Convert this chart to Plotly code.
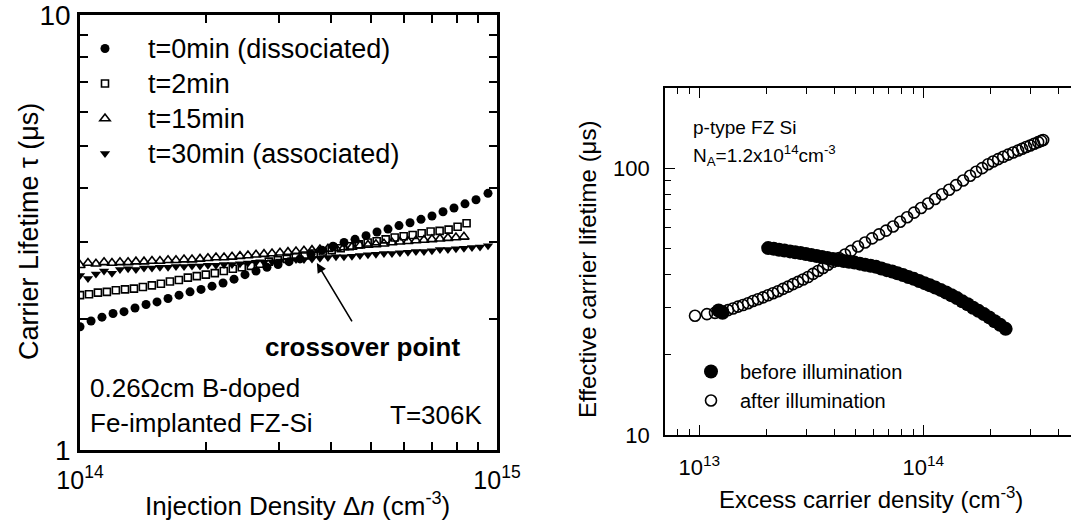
import plotly.graph_objects as go

FONT = "Liberation Sans, Arial, Helvetica, sans-serif"
W, H = 1071, 521

# ---- Left panel: lifetime vs injection density (x in units of 1e14 cm^-3, y in us)
t0_x = [1.000, 1.063, 1.129, 1.200, 1.275, 1.355, 1.440, 1.530, 1.626, 1.728,
        1.836, 1.951, 2.073, 2.203, 2.341, 2.487, 2.643, 2.808, 2.985, 3.171,
        3.370, 3.581, 3.805, 4.043, 4.297, 4.566, 4.852, 5.155, 5.478, 5.821,
        6.186, 6.573, 6.984, 7.422, 7.886, 8.380, 8.906, 9.515]
t0_y = [1.92, 1.98, 2.02, 2.06, 2.08, 2.12, 2.16, 2.19, 2.23, 2.27,
        2.31, 2.34, 2.38, 2.42, 2.47, 2.53, 2.58, 2.63, 2.67, 2.71,
        2.75, 2.82, 2.88, 2.94, 3.00, 3.05, 3.11, 3.17, 3.22, 3.28,
        3.33, 3.39, 3.45, 3.53, 3.60, 3.68, 3.76, 3.89]

t2_x = [1.000, 1.051, 1.104, 1.160, 1.219, 1.282, 1.347, 1.415, 1.487, 1.563,
        1.643, 1.726, 1.814, 1.906, 2.003, 2.105, 2.212, 2.325, 2.443, 2.568,
        2.698, 2.836, 2.980, 3.132, 3.291, 3.459, 3.635, 3.820, 4.014, 4.219,
        4.433, 4.659, 4.896, 5.146, 5.408, 5.683, 5.972, 6.276, 6.596, 6.931,
        7.284, 7.655, 8.045, 8.454]
t2_y = [2.27, 2.28, 2.30, 2.31, 2.33, 2.34, 2.35, 2.37, 2.39, 2.41,
        2.44, 2.46, 2.49, 2.51, 2.53, 2.55, 2.58, 2.61, 2.63, 2.65,
        2.68, 2.71, 2.73, 2.75, 2.78, 2.80, 2.83, 2.86, 2.88, 2.91,
        2.94, 2.97, 3.00, 3.02, 3.05, 3.08, 3.10, 3.12, 3.15, 3.18,
        3.19, 3.21, 3.26, 3.32]

t15_x = [1.000, 1.045, 1.092, 1.142, 1.193, 1.247, 1.304, 1.362, 1.424, 1.488,
         1.555, 1.626, 1.699, 1.776, 1.856, 1.940, 2.027, 2.119, 2.215, 2.315,
         2.419, 2.528, 2.643, 2.762, 2.887, 3.017, 3.153, 3.296, 3.444, 3.600,
         3.762, 3.932, 4.110, 4.295, 4.489, 4.692, 4.904, 5.125, 5.357, 5.599,
         5.851, 6.116, 6.392, 6.681, 6.982, 7.298, 7.627, 7.972, 8.332]
t15_y = [2.66, 2.69, 2.68, 2.70, 2.69, 2.70, 2.70, 2.71, 2.71, 2.72,
         2.72, 2.73, 2.73, 2.74, 2.74, 2.75, 2.76, 2.77, 2.77, 2.78,
         2.79, 2.80, 2.81, 2.82, 2.83, 2.84, 2.85, 2.86, 2.87, 2.88,
         2.89, 2.90, 2.91, 2.92, 2.93, 2.95, 2.96, 2.97, 2.98, 3.00,
         3.01, 3.02, 3.03, 3.04, 3.05, 3.06, 3.07, 3.08, 3.09]

t30_x = [1.000, 1.045, 1.092, 1.142, 1.193, 1.247, 1.304, 1.362, 1.424, 1.488,
         1.555, 1.626, 1.699, 1.776, 1.856, 1.940, 2.027, 2.119, 2.215, 2.315,
         2.419, 2.528, 2.643, 2.762, 2.887, 3.017, 3.153, 3.296, 3.444, 3.600,
         3.762, 3.932, 4.110, 4.295, 4.489, 4.692, 4.904, 5.125, 5.357, 5.599,
         5.851, 6.116, 6.392, 6.681, 6.982, 7.298, 7.627, 7.972, 8.332, 8.710,
         9.105, 9.516]
t30_y = [2.52, 2.48, 2.54, 2.58, 2.55, 2.60, 2.61, 2.60, 2.62, 2.62,
         2.63, 2.63, 2.64, 2.64, 2.65, 2.65, 2.66, 2.66, 2.67, 2.67,
         2.68, 2.69, 2.70, 2.70, 2.71, 2.72, 2.73, 2.74, 2.74, 2.75,
         2.76, 2.77, 2.78, 2.78, 2.79, 2.80, 2.81, 2.82, 2.83, 2.83,
         2.84, 2.85, 2.86, 2.86, 2.87, 2.89, 2.89, 2.90, 2.91, 2.92,
         2.93, 2.95]

# ---- Right panel: effective lifetime vs excess carrier density (x in units of 1e13 cm^-3)
before_x = [1.22, 1.27, 2.03, 2.15, 2.27, 2.40, 2.54, 2.68, 2.83, 2.99, 3.16, 3.34,
            3.53, 3.73, 3.95, 4.17, 4.41, 4.66, 4.93, 5.21, 5.50, 5.82,
            6.15, 6.50, 6.87, 7.26, 7.67, 8.11, 8.57, 9.06, 9.58, 10.12,
            10.70, 11.31, 11.95, 12.64, 13.36, 14.12, 14.92, 15.77, 16.67, 17.62,
            18.63, 19.69, 20.81, 22.0, 23.3]
before_y = [29.3, 28.7, 50.2, 49.9, 49.5, 49.2, 48.8, 48.4, 48.1, 47.7, 47.3, 46.9,
            46.5, 46.1, 45.7, 45.3, 44.9, 44.6, 44.3, 43.9, 43.5, 43.1,
            42.7, 42.1, 41.5, 41.0, 40.4, 39.8, 39.1, 38.5, 37.8, 37.1,
            36.4, 35.7, 35.0, 34.2, 33.4, 32.6, 31.7, 30.9, 30.0, 29.2,
            28.4, 27.6, 26.7, 25.9, 25.0]

after_x = [0.957, 1.082, 1.175, 1.276, 1.343, 1.414, 1.489, 1.567, 1.650, 1.737,
           1.828, 1.925, 2.026, 2.133, 2.245, 2.364, 2.489, 2.620, 2.758, 2.904,
           3.057, 3.218, 3.388, 3.567, 3.755, 3.953, 4.204, 4.471, 4.755, 5.110,
           5.493, 5.903, 6.344, 6.818, 7.328, 7.875, 8.463, 9.09, 9.77, 10.50,
           11.28, 12.13, 13.03, 14.00, 15.05, 16.17, 17.20, 18.30, 19.46, 20.49,
           21.58, 22.72, 23.90, 25.16, 26.48, 27.60, 28.76, 29.97, 31.23, 32.54,
           33.57, 34.26]
after_y = [28.0, 28.4, 28.7, 29.0, 29.4, 29.8, 30.3, 30.7, 31.2, 31.8,
           32.3, 32.8, 33.4, 34.0, 34.6, 35.3, 36.0, 36.8, 37.5, 38.3,
           39.1, 40.2, 41.2, 42.3, 43.5, 44.6, 46.1, 47.5, 49.0, 50.9,
           52.7, 54.6, 56.5, 58.4, 60.5, 63.0, 65.5, 68.2, 71.0, 73.8,
           76.7, 79.9, 83.1, 86.5, 90.0, 93.8, 97.0, 100.1, 103.6, 106.0,
           108.2, 110.4, 112.5, 114.6, 116.6, 118.3, 120.1, 121.8, 123.6, 125.3,
           126.7, 127.6]

# ---- Tick positions and labels
left_x_major = [1e14, 1e15]
left_x_labels = ["10<sup>14</sup>", "10<sup>15</sup>"]
left_x_minor = [2e14, 3e14, 4e14, 5e14, 6e14, 7e14, 8e14, 9e14]
left_y_major = [1, 10]
left_y_labels = ["1", "10"]
left_y_minor = [2, 3, 4, 5, 6, 7, 8, 9]

right_x_major = [1e13, 1e14]
right_x_labels = ["10<sup>13</sup>", "10<sup>14</sup>"]
right_x_minor = [8e12, 9e12, 2e13, 3e13, 4e13, 5e13, 6e13, 7e13, 8e13, 9e13,
                 2e14, 3e14, 4e14]
right_y_major = [10, 100]
right_y_labels = ["10", "100"]
right_y_minor = [20, 30, 40, 50, 60, 70, 80, 90, 200]


def px(x):
    return x / W


def py(y):
    return 1 - y / H


def big(text):
    # legend rows keep a compact line pitch while the entry text is drawn larger
    return f'<span style="font-size:27px">{text}</span>'


fig = go.Figure()

left_series = [
    ("t=0min (dissociated)", t0_x, t0_y, dict(symbol="circle", size=9, color="black")),
    ("t=2min", t2_x, t2_y, dict(symbol="square-open", size=7, color="black", line=dict(width=1.6))),
    ("t=15min", t15_x, t15_y, dict(symbol="triangle-up-open", size=9, color="black", line=dict(width=1.6))),
    ("t=30min (associated)", t30_x, t30_y, dict(symbol="triangle-down", size=9, color="black")),
]
for name, xs, ys, mk in left_series:
    fig.add_trace(go.Scatter(
        x=[v * 1e14 for v in xs], y=ys, mode="markers", name=big(name),
        marker=mk, xaxis="x", yaxis="y", legend="legend"))

fig.add_trace(go.Scatter(
    x=[v * 1e13 for v in after_x], y=after_y, mode="markers", name="after illumination",
    marker=dict(symbol="circle-open", size=11, color="black", line=dict(width=1.6)),
    xaxis="x2", yaxis="y2", legend="legend2"))
fig.add_trace(go.Scatter(
    x=[v * 1e13 for v in before_x], y=before_y, mode="markers", name="before illumination",
    marker=dict(symbol="circle", size=14, color="black"),
    xaxis="x2", yaxis="y2", legend="legend2"))


def log_axis(major, labels, minor, rng, domain, anchor, lw, tlen, mlen, fsize, standoff, mirror):
    return dict(
        type="log", range=rng, domain=domain, anchor=anchor, automargin=False,
        showgrid=False, zeroline=False, showline=True, linecolor="black", linewidth=lw,
        mirror=mirror, ticks="inside", tickcolor="black", ticklen=tlen, tickwidth=lw * 0.8,
        tickmode="array", tickvals=major, ticktext=labels, ticklabeloverflow="allow",
        tickfont=dict(size=fsize, family=FONT, color="black"), ticklabelstandoff=standoff,
        minor=dict(tickmode="array", tickvals=minor, ticks="inside", ticklen=mlen,
                   tickwidth=lw * 0.8, tickcolor="black", showgrid=False),
    )


fig.update_layout(
    width=W, height=H, margin=dict(l=0, r=0, t=0, b=0),
    paper_bgcolor="white", plot_bgcolor="white",
    font=dict(family=FONT, color="black"),
    xaxis=log_axis(left_x_major, left_x_labels, left_x_minor, [14, 15],
                   [px(80), px(497)], "y", 2.5, 9, 8, 25, 6, "allticks"),
    yaxis=log_axis(left_y_major, left_y_labels, left_y_minor, [0, 1],
                   [py(450), py(15)], "x", 2.5, 9, 8, 28, 1, "allticks"),
    xaxis2=log_axis(right_x_major, right_x_labels, right_x_minor, [12.847, 14.659],
                    [px(665), 1.0], "y2", 1.6, 10, 6, 22, 12, "allticks"),
    yaxis2=log_axis(right_y_major, right_y_labels, right_y_minor, [1, 2.301],
                    [py(435), py(88)], "x2", 1.6, 10, 6, 22, 9, False),
    legend=dict(x=px(62), y=py(26), xanchor="left", yanchor="top",
                bgcolor="rgba(0,0,0,0)", font=dict(size=24.6, family=FONT, color="black"),
                itemwidth=76, tracegroupgap=0, traceorder="normal"),
    legend2=dict(x=px(682), y=py(352), xanchor="left", yanchor="top",
                 bgcolor="rgba(0,0,0,0)", font=dict(size=20, family=FONT, color="black"),
                 itemwidth=48, traceorder="reversed"),
    showlegend=True,
)

ann = []


def label(text, x, y, size, xanchor="center", angle=0, bold=False):
    ann.append(dict(text=f"<b>{text}</b>" if bold else text, x=px(x), y=py(y),
                    xref="paper", yref="paper", xanchor=xanchor, yanchor="middle",
                    textangle=angle, showarrow=False,
                    font=dict(size=size, family=FONT, color="black")))


# left panel texts
label("Carrier Lifetime \u03c4 (\u03bcs)", 29, 232, 27, angle=-90)
label("Injection Density \u0394<i>n</i> (cm<sup>-3</sup>)", 297, 504, 26)
label("crossover point", 362, 347, 26, bold=True)
label("0.26\u03a9cm B-doped", 88, 388, 26, xanchor="left")
label("Fe-implanted FZ-Si", 88, 423, 26, xanchor="left")
label("T=306K", 484, 415, 26, xanchor="right")

# right panel texts
label("Effective carrier lifetime (\u03bcs)", 587, 270, 24, angle=-90)
label("Excess carrier density (cm<sup>-3</sup>)", 871, 498, 24)
label("p-type FZ Si", 691, 127, 19, xanchor="left")
label("N<sub>A</sub>=1.2x10<sup>14</sup>cm<sup>-3</sup>", 691, 155, 19, xanchor="left")

# arrow pointing at the crossover of the curves
ann.append(dict(x=14.568, y=0.430, xref="x", yref="y", text="", showarrow=True,
                ax=36, ay=60, arrowhead=2, arrowsize=1.2, arrowwidth=1.6,
                arrowcolor="black", standoff=0))

fig.update_layout(annotations=ann)

fig.write_html("out.html")
